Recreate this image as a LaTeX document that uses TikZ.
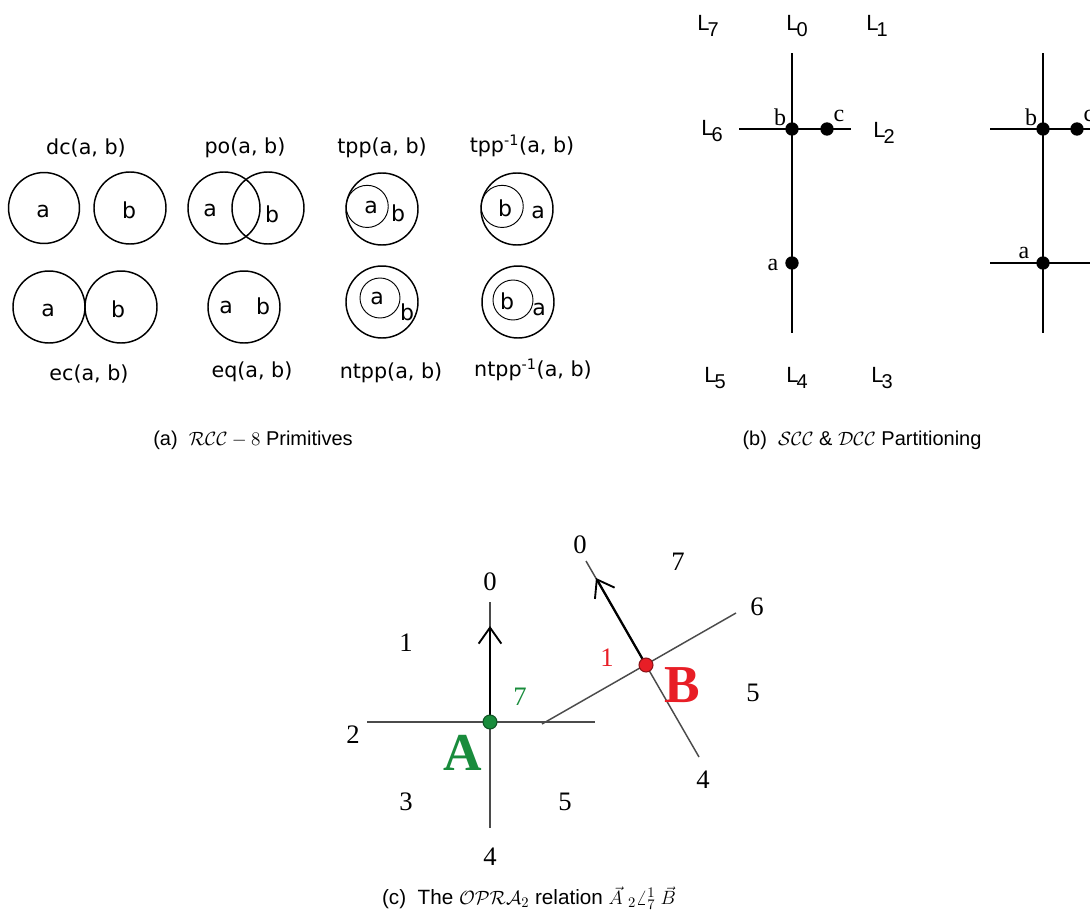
\documentclass[tikz,border=0pt]{standalone}
\usepackage{fontspec}
\usetikzlibrary{arrows.meta}
\newfontfamily\lsans{Liberation Sans}
\newfontfamily\dsans{DejaVu Sans}
\newfontfamily\lserif{Liberation Serif}
\definecolor{ogreen}{RGB}{25,140,60}
\definecolor{ored}{RGB}{232,30,38}
\definecolor{lgray}{RGB}{75,75,75}
\newcommand\Lab[1]{L\kern-1.4pt\raisebox{-4.5pt}{\fontsize{15}{15}\selectfont #1}}
\begin{document}
\begin{tikzpicture}[x=0.75pt,y=-0.75pt,
  rel/.style={font=\dsans\fontsize{15.5}{16}\selectfont, inner sep=0pt},
  reg/.style={font=\dsans\fontsize{16.5}{16}\selectfont, inner sep=0pt},
  ring/.style={line width=1.1pt},
  iring/.style={line width=0.7pt},
  capt/.style={font=\lsans\fontsize{15}{16}\selectfont, inner sep=0pt},
  Llab/.style={font=\lsans\fontsize{16.5}{16}\selectfont, inner sep=0pt},
  ptl/.style={font=\lserif\fontsize{18}{18}\selectfont, inner sep=0pt},
  bline/.style={line width=1.5pt},
  bdot/.style={circle, fill=black, inner sep=0pt, minimum size=10pt},
  dig/.style={font=\lserif\fontsize{20}{20}\selectfont, inner sep=0pt},
  gline/.style={line width=1.1pt, draw=lgray},
  oarrow/.style={line width=1.7pt, -{Straight Barb[length=12pt,width=17pt,line width=1.4pt]}},
  cdot/.style={circle, inner sep=0pt, minimum size=10.5pt, line width=0.8pt}]
\useasboundingbox (0,0) rectangle (1090,914);
\clip (0,0) rectangle (1090,914);

% ---------------- (a) RCC-8 ----------------
% dc
\draw[ring] (44,208) circle[radius=26.6pt];
\draw[ring] (130,208) circle[radius=27pt];
\node[reg] (dca) at (43,211) {a};
\node[reg] (dcb) at (129,210) {b};
\node[rel] (dc) at (86,148) {dc(a, b)};
% po
\draw[ring] (224,208) circle[radius=27pt];
\draw[ring] (268,208) circle[radius=27pt];
\node[reg] (poa) at (210,210) {a};
\node[reg] (pob) at (272,214) {b};
\node[rel] (po) at (245,148) {po(a, b)};
% tpp
\draw[ring] (382,209) circle[radius=27pt];
\draw[iring] (367.2,206.4) circle[radius=15.8pt];
\node[reg] (tppa) at (371,207) {a};
\node[reg] (tppb) at (398,213) {b};
\node[rel] (tpp) at (382,148) {tpp(a, b)};
% tpp^-1
\draw[ring] (517,209) circle[radius=27pt];
\draw[iring] (502.2,206.4) circle[radius=15.8pt];
\node[reg] (tppib) at (505,208) {b};
\node[reg] (tppia) at (538,212) {a};
\node[rel] (tppi) at (522,146) {tpp\textsuperscript{-1}(a, b)};
% ec
\draw[ring] (49,307) circle[radius=27pt];
\draw[ring] (121,307) circle[radius=27pt];
\node[reg] (eca) at (48,310) {a};
\node[reg] (ecb) at (118,309) {b};
\node[rel] (ec) at (89,374) {ec(a, b)};
% eq
\draw[ring] (244,307) circle[radius=27pt];
\node[reg] (eqa) at (226,307) {a};
\node[reg] (eqb) at (263,306) {b};
\node[rel] (eq) at (252,372) {eq(a, b)};
% ntpp
\draw[ring] (382,302) circle[radius=27pt];
\draw[iring] (380,298) circle[radius=15pt];
\node[reg] (ntppa) at (377,298) {a};
\node[reg] (ntppb) at (407,312) {b};
\node[rel] (ntpp) at (391,373) {ntpp(a, b)};
% ntpp^-1
\draw[ring] (518,302) circle[radius=27pt];
\draw[iring] (513,300) circle[radius=15pt];
\node[reg] (ntppib) at (507,301) {b};
\node[reg] (ntppia) at (539,309) {a};
\node[rel] (ntppi) at (533,370) {ntpp\textsuperscript{-1}(a, b)};

\node[capt] (capa) at (253,440) {(a)\ \ $\mathcal{RCC}-8$ Primitives};

% ---------------- (b) SCC & DCC ----------------
\node[Llab] (L7) at (708,26) {\Lab{7}};
\node[Llab] (L0) at (797,26) {\Lab{0}};
\node[Llab] (L1) at (877,26) {\Lab{1}};
\node[Llab] (L6) at (712,131) {\Lab{6}};
\node[Llab] (L2) at (884,133) {\Lab{2}};
\node[Llab] (L5) at (715,378) {\Lab{5}};
\node[Llab] (L4) at (797,378) {\Lab{4}};
\node[Llab] (L3) at (882,378) {\Lab{3}};

\coordinate (v1t) at (792,53);
\coordinate (v1b) at (792,333);
\coordinate (h1l) at (739,129);
\coordinate (h1r) at (851,129);
\draw[bline] (v1t) -- (v1b);
\draw[bline] (h1l) -- (h1r);
\node[bdot] (pb) at (792,129) {};
\node[bdot] (pc) at (827,129) {};
\node[bdot] (pa) at (792,263) {};
\node[ptl] (lb) at (780,117) {b};
\node[ptl] (lc) at (839,116) {c};
\node[ptl] (la) at (773,265) {a};

\coordinate (v2t) at (1043,53);
\coordinate (v2b) at (1043,333);
\coordinate (h2l) at (990,129);
\coordinate (h2r) at (1095,129);
\coordinate (h3l) at (990,263);
\coordinate (h3r) at (1095,263);
\draw[bline] (v2t) -- (v2b);
\draw[bline] (h2l) -- (h2r);
\draw[bline] (h3l) -- (h3r);
\node[bdot] (qb) at (1043,129) {};
\node[bdot] (qc) at (1077,129) {};
\node[bdot] (qa) at (1043,263) {};
\node[ptl] (mb) at (1031,117) {b};
\node[ptl] (mc) at (1089,116) {c};
\node[ptl] (ma) at (1024,253) {a};

\node[capt] (capb) at (862,440) {(b)\ \ $\mathcal{SCC}$ \& $\mathcal{DCC}$ Partitioning};

% ---------------- (c) OPRA_2 ----------------
\coordinate (A) at (490,722);
\coordinate (B) at (646,665);
\coordinate (Ahl) at (367,722);
\coordinate (Ahr) at (595,722);
\coordinate (Avt) at (490,602);
\coordinate (Avb) at (490,828);
\coordinate (Atip) at (490,626);
\coordinate (Bl) at (542,724);
\coordinate (Br) at (736,613);
\coordinate (Bt) at (586,561);
\coordinate (Bd) at (699,757);
\coordinate (Btip) at (596,578);
\draw[gline] (Ahl) -- (Ahr);
\draw[gline] (Avt) -- (Avb);
\draw[gline] (Bl) -- (Br);
\draw[gline] (Bt) -- (Bd);
\draw[oarrow] (A) -- (Atip);
\draw[oarrow] (B) -- (Btip);
\node[cdot, fill=ogreen, draw=ogreen!60!black] (Adot) at (A) {};
\node[cdot, fill=ored, draw=ored!60!black] (Bdot) at (B) {};

\node[dig] (a0) at (490,582) {0};
\node[dig] (a1) at (406,643) {1};
\node[dig, text=ogreen] (a7) at (520,697) {7};
\node[dig] (a2) at (353,735) {2};
\node[dig] (a3) at (406,802) {3};
\node[dig] (a5) at (565,802) {5};
\node[dig] (a4) at (490,857) {4};
\node[font=\lserif\bfseries\fontsize{40}{40}\selectfont, text=ogreen, inner sep=0pt] (Alab) at (463,753) {A};

\node[dig] (b0) at (580,545) {0};
\node[dig] (b7) at (678,562) {7};
\node[dig] (b6) at (757,607) {6};
\node[dig, text=ored] (b1) at (607,658) {1};
\node[dig] (b5) at (753,693) {5};
\node[dig] (b4) at (703,780) {4};
\node[font=\lserif\bfseries\fontsize{40}{40}\selectfont, text=ored, inner sep=0pt] (Blab) at (682,685) {B};

\node[font=\lsans\fontsize{15.5}{16}\selectfont, inner sep=0pt] (capc) at (529,898) {(c)\ \ The $\mathcal{OPRA}_2$ relation $\vec{A}\;{}_2\angle^{1}_{7}\;\vec{B}$};
\end{tikzpicture}
\end{document}
